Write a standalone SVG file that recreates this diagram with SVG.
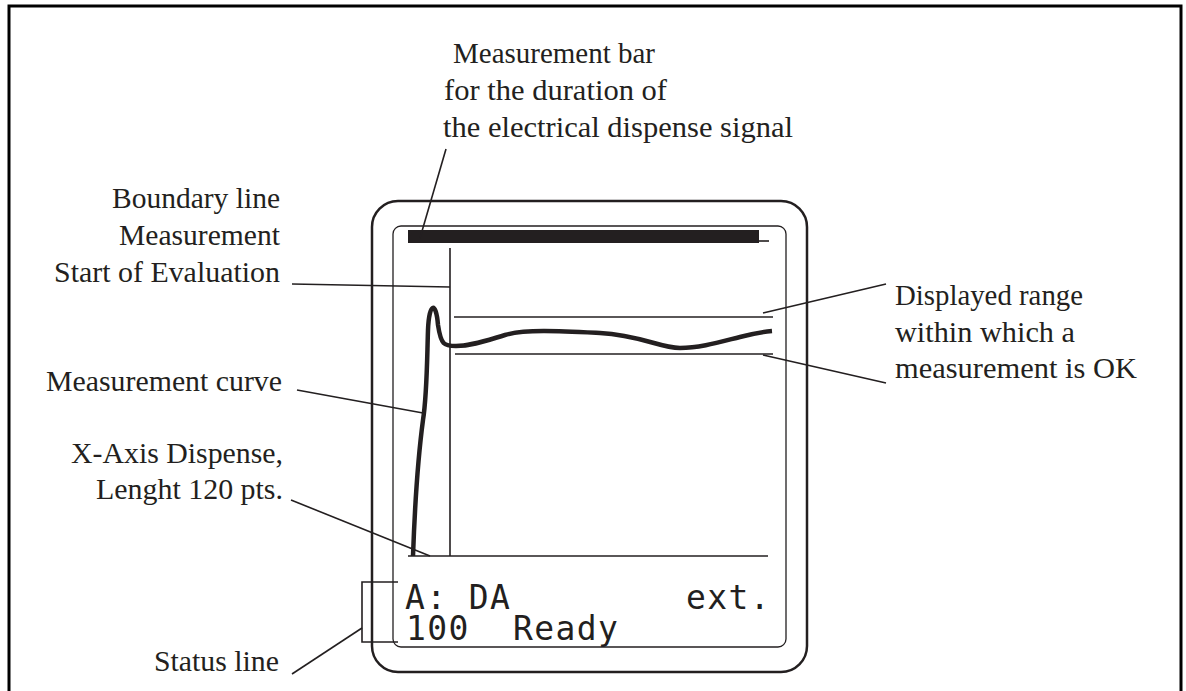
<svg xmlns="http://www.w3.org/2000/svg" width="1186" height="691" viewBox="0 0 1186 691">
<style>
.lbl{font-family:"Liberation Serif","Times New Roman",serif;font-size:29px;fill:#231f20}
.lcd{font-family:"DejaVu Sans Mono","Liberation Mono",monospace;font-size:33px;letter-spacing:1.4px;fill:#231f20}
.ld{stroke:#231f20;stroke-width:1.6;fill:none}
.dev{stroke:#231f20;fill:none}
</style>
<rect width="1186" height="691" fill="#fff"/>
<path d="M9,692 V6 H1181 V692" fill="none" stroke="#000" stroke-width="3"/>
<g id="device">
<rect class="dev" x="372" y="201" width="435" height="471" rx="26" stroke-width="2.5"/>
<rect class="dev" x="393" y="226" width="393" height="421" rx="8" stroke-width="1.3"/>
</g>
<g id="measurement-bar">
<rect x="408" y="230" width="351" height="13" fill="#231f20"/>
<line x1="759" y1="241" x2="769" y2="241" class="ld" stroke-width="1.8"/>
</g>
<g id="boundary-line">
<line x1="450" y1="248" x2="450" y2="556" class="ld" stroke-width="1.8"/>
</g>
<g id="x-axis">
<line x1="408" y1="556" x2="768" y2="556" class="ld" stroke-width="2.2"/>
</g>
<g id="range">
<line x1="454" y1="317" x2="773" y2="317" class="ld" stroke-width="1.8"/>
<line x1="455" y1="354" x2="773" y2="354" class="ld" stroke-width="1.8"/>
</g>
<g id="curve">
<path d="M413,556 C415,500 419,450 423,420 C427,395 427,360 428,330 C429,303 436,300 438,325 C441,345 444,346 456,346 C472,346 488,340 505,335 C525,329 560,331 600,333 C640,335 660,348 680,348 C700,348 720,342 740,337 C755,333 760,332 772,331" fill="none" stroke="#231f20" stroke-width="4.5"/>
</g>
<g id="status-bracket">
<path d="M398,582 H362 V642 H398" class="ld"/>
</g>
<g id="connectors">
<line x1="446" y1="149" x2="420" y2="238" class="ld"/>
<line x1="292" y1="284" x2="450" y2="287" class="ld"/>
<line x1="297" y1="390" x2="423" y2="413" class="ld"/>
<line x1="291" y1="500" x2="430" y2="556" class="ld"/>
<line x1="292" y1="674" x2="362" y2="628" class="ld"/>
<line x1="886" y1="284" x2="763" y2="313" class="ld"/>
<line x1="763" y1="355" x2="886" y2="383" class="ld"/>
</g>
<g id="label-bar">
<text class="lbl" x="453" y="63" textLength="202" lengthAdjust="spacingAndGlyphs">Measurement bar</text>
<text class="lbl" x="444" y="100" textLength="223" lengthAdjust="spacingAndGlyphs">for the duration of</text>
<text class="lbl" x="443" y="137" textLength="350" lengthAdjust="spacingAndGlyphs">the electrical dispense signal</text>
</g>
<g id="label-boundary">
<text class="lbl" x="112" y="208" textLength="168" lengthAdjust="spacingAndGlyphs">Boundary line</text>
<text class="lbl" x="119" y="245" textLength="161" lengthAdjust="spacingAndGlyphs">Measurement</text>
<text class="lbl" x="54" y="282" textLength="226" lengthAdjust="spacingAndGlyphs">Start of Evaluation</text>
</g>
<g id="label-curve">
<text class="lbl" x="46" y="391" textLength="236" lengthAdjust="spacingAndGlyphs">Measurement curve</text>
</g>
<g id="label-xaxis">
<text class="lbl" x="71" y="463" textLength="212" lengthAdjust="spacingAndGlyphs">X-Axis Dispense,</text>
<text class="lbl" x="96" y="499" textLength="187" lengthAdjust="spacingAndGlyphs">Lenght 120 pts.</text>
</g>
<g id="label-status">
<text class="lbl" x="154" y="671" textLength="125" lengthAdjust="spacingAndGlyphs">Status line</text>
</g>
<g id="label-range">
<text class="lbl" x="895" y="305" textLength="188" lengthAdjust="spacingAndGlyphs">Displayed range</text>
<text class="lbl" x="895" y="342" textLength="180" lengthAdjust="spacingAndGlyphs">within which a</text>
<text class="lbl" x="895" y="378" textLength="242" lengthAdjust="spacingAndGlyphs">measurement is OK</text>
</g>
<g id="lcd-text">
<text class="lcd" x="405" y="609">A: DA</text>
<text class="lcd" x="686" y="609">ext.</text>
<text class="lcd" x="406" y="640">100</text>
<text class="lcd" x="513" y="640">Ready</text>
</g>
</svg>
